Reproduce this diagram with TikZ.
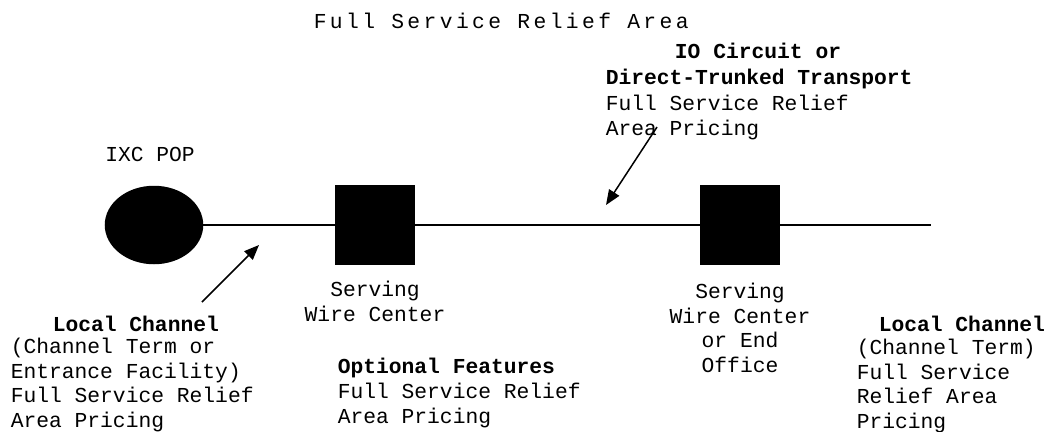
\documentclass[tikz,border=0pt]{standalone}
\usepackage{fontspec}
\newfontfamily\mono{Liberation Mono}
\usetikzlibrary{shapes.geometric,arrows.meta}

\tikzset{
  txt/.style={font=\mono\fontsize{21.3}{24.5}\selectfont, inner sep=0pt, align=left, anchor=base west},
  hd/.style={txt, font=\mono\bfseries\fontsize{21.3}{24.5}\selectfont},
  site/.style={draw, fill=black, minimum size=78pt, inner sep=0pt},
  ptr/.style={-{Triangle[length=15pt,width=12pt]}},
}

\begin{document}
\begin{tikzpicture}[x=1pt, y=-1pt, line width=1.5pt]
      \useasboundingbox (0,0) rectangle (1044,431);
      \pgfmathsetmacro{\ly}{225}

      \node[draw, fill=black, ellipse, minimum width=97pt, minimum height=77pt, inner sep=0pt] (pop) at (154,\ly) {};
      \node[site] (swc) at (375,\ly) {};
      \node[site] (eo) at (740,\ly) {};
      \coordinate (end) at (931,\ly);

      \draw (pop) -- (swc);
      \draw (swc) -- (eo);
      \draw (eo) -- (end);

      % texts: anchor base = last line
      \node[txt, anchor=base west] (title) at (313,28) {\addfontfeature{LetterSpace=16}Full Service Relief Area};
      \node[txt, anchor=base] (popl) at (150,161) {IXC POP};

      \node[hd, anchor=base] (ioh) at (758,58) {IO Circuit or};
      \node[hd] (ioh2) at (605,84) {Direct-Trunked Transport};
      \node[txt] (iob) at (605,135) {Full Service Relief\\Area Pricing};

      \node[hd] (lch) at (52,331) {Local Channel};
      \node[txt] (lcb) at (10,427) {(Channel Term or\\Entrance Facility)\\Full Service Relief\\Area Pricing};

      \node[txt, align=center, anchor=base] (swcl) at (375,321) {Serving\\Wire Center};
      \node[txt, align=center, anchor=base] (eol) at (740,372) {Serving\\Wire Center\\or End\\Office};

      \node[hd] (opth) at (337,373) {Optional Features};
      \node[txt] (optb) at (337,423) {Full Service Relief\\Area Pricing};

      \node[hd] (rch) at (878,331) {Local Channel};
      \node[txt] (rcb) at (856,428) {(Channel Term)\\Full Service\\Relief Area\\Pricing};

      \coordinate (lcTail) at (202,302);
      \coordinate (lcTip) at (259,245);
      \coordinate (ioTail) at (657,127);
      \coordinate (ioTip) at (606,205);
      \draw[ptr] (lcTail) -- (lcTip);
      \draw[ptr] (ioTail) -- (ioTip);
    \end{tikzpicture}
\end{document}
